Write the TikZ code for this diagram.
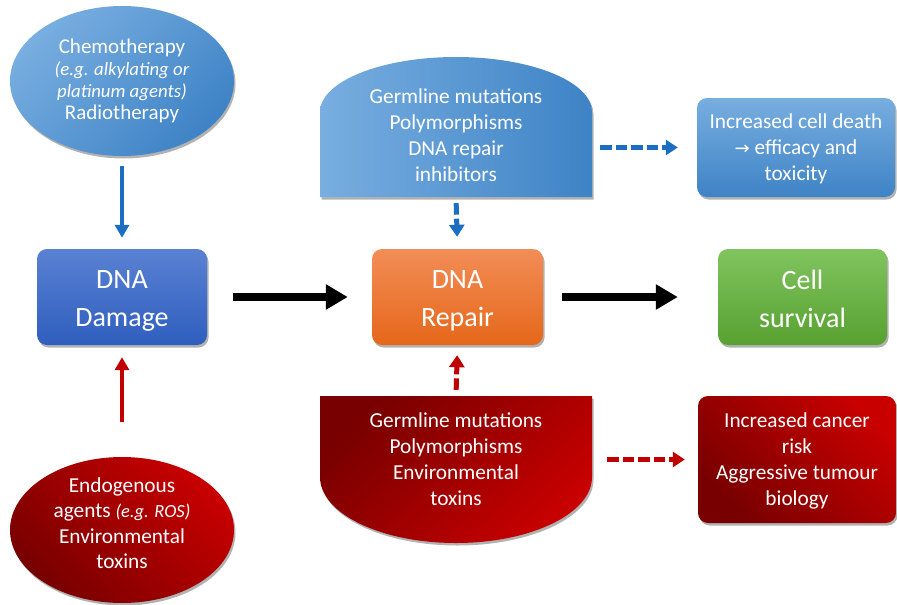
\documentclass[tikz,border=0pt]{standalone}
\usepackage{fontspec}
\setmainfont{Carlito}
\newfontfamily\symfont{DejaVu Sans}
\usetikzlibrary{arrows.meta,shapes.geometric,shadows}
\definecolor{bluelt}{HTML}{78AEE0}
\definecolor{bluedk}{HTML}{3E83C6}
\definecolor{dmgtop}{HTML}{5A82D3}
\definecolor{dmgbot}{HTML}{2F5EBE}
\definecolor{reptop}{HTML}{F28D57}
\definecolor{repbot}{HTML}{E5671A}
\definecolor{survtop}{HTML}{80C45E}
\definecolor{survbot}{HTML}{57A131}
\definecolor{reddk}{HTML}{780000}
\definecolor{redlt}{HTML}{C80000}
\definecolor{arrblue}{HTML}{1B6EC2}
\definecolor{arrred}{HTML}{C00000}
\begin{document}
\begin{tikzpicture}[x=1pt,y=-1pt,
  shad/.style={drop shadow={shadow xshift=1.5pt,shadow yshift=-2.5pt,opacity=0.3,fill=black}},
  txt/.style={text=white, align=center, inner sep=0pt, font=\fontsize{21.3}{26}\selectfont},
  bigtxt/.style={text=white, align=center, font=\fontsize{28}{38}\selectfont},
  box/.style={shape=rectangle, rounded corners=10pt, shad, minimum width=170pt, minimum height=96pt},
  anchorbox/.style={shape=rectangle, inner sep=0pt, minimum width=272pt},
  solidarr/.style={line width=4pt, -{Triangle[length=13pt,width=14pt]}},
  bigarr/.style={line width=8pt, black, -{Triangle[length=22pt,width=24pt]}},
  dasharr/.style={line width=5pt, dash pattern=on 11.5pt off 4pt, -{Triangle[length=12pt,width=15pt]}}
]
\useasboundingbox (0,0) rectangle (897,605);

% ellipses
\node[ellipse, shad, minimum width=224pt, minimum height=150pt, inner sep=0pt,
  top color=bluelt, bottom color=bluedk, shading angle=45,
  text=white, align=center, font=\fontsize{21}{22}\selectfont] (chemo) at (122,81)
  {Chemotherapy\\{\fontsize{18.8}{22}\selectfont\itshape (e.g. alkylating or}\\{\fontsize{18.8}{22}\selectfont\itshape platinum agents)}\\Radiotherapy};

\node[ellipse, shad, minimum width=224pt, minimum height=146pt, inner sep=0pt,
  top color=redlt, bottom color=reddk, shading angle=-45] (endo) at (122,530) {};
\node[txt, font=\fontsize{21.3}{25.5}\selectfont] (endotext) at (122,523)
  {Endogenous\\agents {\fontsize{18.5}{25.5}\selectfont\itshape (e.g. ROS)}\\Environmental\\toxins};

% main boxes
\node[box, top color=dmgtop, bottom color=dmgbot] (damage) at (122,297) {};
\node[bigtxt] (damagetext) at (122,301) {DNA\\Damage\vphantom{Dg}};
\node[box, top color=reptop, bottom color=repbot, minimum width=171pt] (repair) at (457.5,297) {};
\node[bigtxt] (repairtext) at (457.5,301) {DNA\\Repair\vphantom{Dg}};
\node[box, top color=survtop, bottom color=survbot, minimum width=169pt] (survival) at (802.5,297) {};
\node[bigtxt] (survivaltext) at (802.5,301) {Cell\\survival\vphantom{Dg}};

% top dome
\path[shad, left color=bluelt, right color=bluedk]
  (320,197) -- (320,112) .. controls (320,81.6) and (380.9,57) .. (456,57)
  .. controls (531.1,57) and (592,81.6) .. (592,112) -- (592,197) -- cycle;
\node[anchorbox, minimum height=140pt] (topmod) at (456,127) {};
\node[txt] (topmodtext) at (456,135) {Germline mutations\\Polymorphisms\\DNA repair\\inhibitors};

% bottom dome
\path[shad, top color=reddk, bottom color=redlt, shading angle=45]
  (320,396) -- (320,477) .. controls (320,513.5) and (380.9,543) .. (456,543)
  .. controls (531.1,543) and (592,513.5) .. (592,477) -- (592,396) -- cycle;
\node[anchorbox, minimum height=147pt] (botmod) at (456,469.5) {};
\node[txt] (botmodtext) at (456,459) {Germline mutations\\Polymorphisms\\Environmental\\toxins};

% outcome boxes
\node[box, top color=bluelt, bottom color=bluedk, minimum width=198pt, minimum height=99pt] (death) at (796,147.5) {};
\node[txt] (deathtext) at (796,149) {Increased cell death\\{\symfont\fontsize{18}{26}\selectfont →} efficacy and\\toxicity};
\node[box, top color=redlt, bottom color=reddk, shading angle=-45, minimum width=198pt, minimum height=127pt] (cancer) at (797,459.5) {};
\node[txt] (cancertext) at (797,461) {Increased cancer\\risk\\Aggressive tumour\\biology};

% connectors
\draw[solidarr, arrblue, shorten <=10pt, shorten >=11pt] (chemo.south) -- (damage.north);
\draw[solidarr, arrred, shorten <=35pt, shorten >=12pt] (endo.north) -- (damage.south);
\draw[bigarr, shorten <=26pt, shorten >=24pt] (damage.east) -- (repair.west);
\draw[bigarr, shorten <=19pt, shorten >=40pt] (repair.east) -- (survival.west);
\draw[dasharr, arrblue, shorten <=6pt, shorten >=12pt] (topmod.south) -- (repair.north);
\draw[dasharr, arrred, shorten <=6pt, shorten >=10pt] (botmod.north) -- (repair.south);
\draw[dasharr, arrblue, shorten <=8pt, shorten >=19pt] (topmod.east |- death.west) -- (death.west);
\draw[dasharr, arrred, shorten <=15pt, shorten >=13pt] (botmod.east |- cancer.west) -- (cancer.west);
\end{tikzpicture}
\end{document}
